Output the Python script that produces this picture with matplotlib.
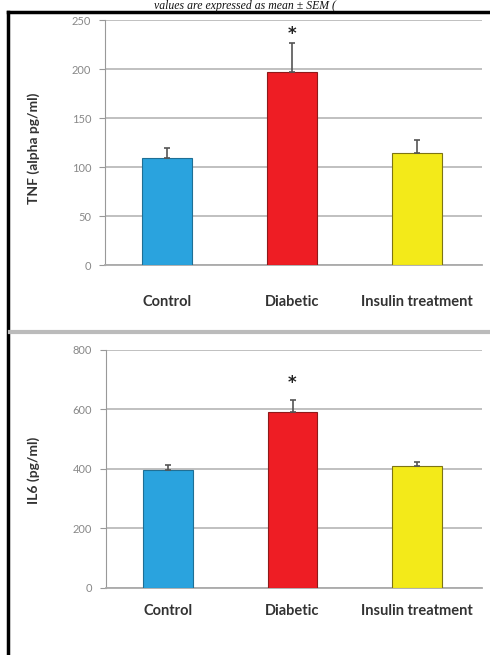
import matplotlib
matplotlib.use("Agg")
import matplotlib.pyplot as plt
from matplotlib.lines import Line2D

categories = ["Control", "Diabetic", "Insulin treatment"]
tnf_means = [109, 197, 114]
tnf_sem = [10, 30, 14]
il6_means = [395, 592, 410]
il6_sem = [17, 40, 13]
tnf_ticks = [0, 50, 100, 150, 200, 250]
il6_ticks = [0, 200, 400, 600, 800]
colors = ["#2AA3DE", "#EE1D24", "#F3EA19"]
edges = ["#1F6F95", "#8E1A1A", "#7D7414"]

fig = plt.figure(figsize=(4.9, 6.55), dpi=100)

label_font = dict(family=["Lato", "DejaVu Sans"], fontweight="bold", color="#333333")

def panel(rect, means, sem, ticks, ymax, star_y):
    ax = fig.add_axes(rect)
    x = list(range(len(categories)))
    ax.bar(x, means, width=0.4, color=colors, edgecolor=edges, linewidth=0.8, zorder=3)
    ax.errorbar(x, means, yerr=[[0]*len(sem), sem], fmt="none", ecolor="#555555",
                elinewidth=1.2, capsize=2.5, capthick=1.2, zorder=4)
    ax.set_xlim(-0.496, 2.52)
    ax.set_ylim(0, ymax)
    ax.set_yticks(ticks)
    ax.set_yticklabels([str(t) for t in ticks], fontsize=8, color="#888888",
                       family=["Lato", "DejaVu Sans"])
    ax.grid(axis="y", color="#BBBBBB", linewidth=1.3, zorder=0)
    ax.set_axisbelow(True)
    for s in ["top", "right"]:
        ax.spines[s].set_visible(False)
    ax.spines["left"].set_color("#999999")
    ax.spines["bottom"].set_color("#AAAAAA")
    ax.spines["bottom"].set_linewidth(1.3)
    ax.tick_params(axis="y", length=4, color="#999999", pad=6)
    ax.tick_params(axis="x", length=0, pad=0)
    ax.set_xticks([])
    ax.text(1, star_y, "*", ha="center", va="center", fontsize=12, fontweight="bold", color="#222222")
    return ax

ax1 = panel([0.2143, 0.5954, 0.7694, 0.374], tnf_means, tnf_sem, tnf_ticks, 250, 236)
ax2 = panel([0.2163, 0.1023, 0.7674, 0.3634], il6_means, il6_sem, il6_ticks, 800, 690)

# category labels
for ax, ypix in [(ax1, 302), (ax2, 611)]:
    for i, c in enumerate(categories):
        xd = ax.transData.transform((i, 0))[0]
        fig.text(xd / 490, 1 - ypix / 655, c, ha="center", va="center", fontsize=10.5, **label_font)

fig.text(34 / 490, 1 - 148 / 655, "TNF (alpha pg/ml)", rotation=90, ha="center", va="center",
         fontsize=10, **label_font)
fig.text(34 / 490, 1 - 470 / 655, "IL6 (pg/ml)", rotation=90, ha="center", va="center",
         fontsize=10, **label_font)

# caption fragment at top
fig.text(0.5, 1 - 5.5 / 655, "values are expressed as mean ± SEM (", ha="center", va="center",
         fontsize=8.5, style="italic", family=["Liberation Serif", "DejaVu Serif"], color="#111111")

# frame lines
fig.add_artist(Line2D([8 / 490, 8 / 490], [0, 1 - 12 / 655], transform=fig.transFigure,
                      color="black", linewidth=2.5))
fig.add_artist(Line2D([8 / 490, 1], [1 - 12 / 655, 1 - 12 / 655], transform=fig.transFigure,
                      color="black", linewidth=2.5))
fig.add_artist(Line2D([10 / 490, 1], [1 - 332 / 655, 1 - 332 / 655], transform=fig.transFigure,
                      color="#BBBBBB", linewidth=3))

fig.savefig("out.png", dpi=100)
